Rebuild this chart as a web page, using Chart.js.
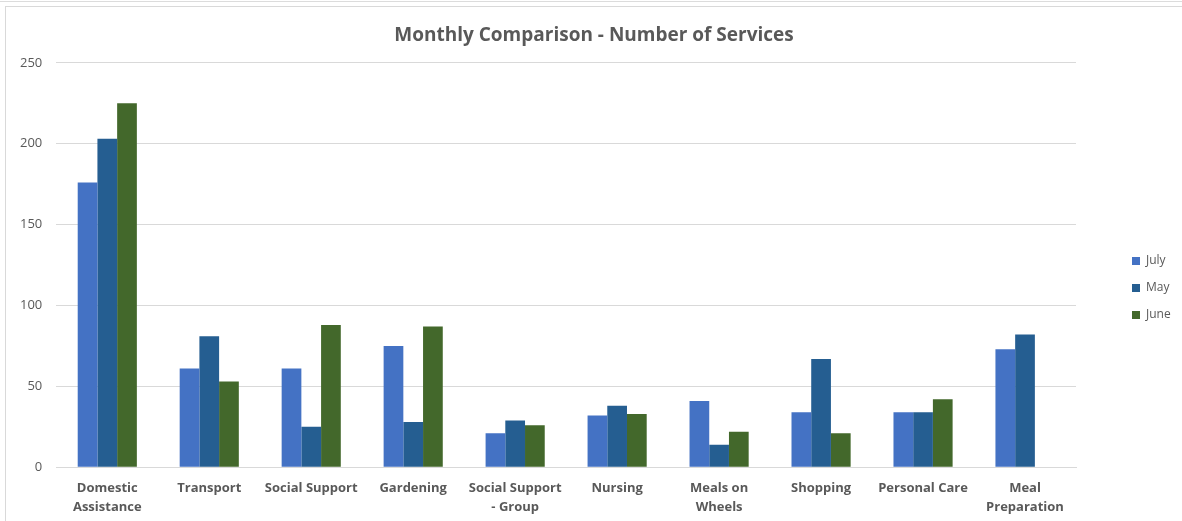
<!DOCTYPE html>
<html>
<head>
<meta charset="utf-8">
<script src="https://cdn.jsdelivr.net/npm/chart.js@4.4.1/dist/chart.umd.min.js"></script>
<style>
  html, body { margin: 0; padding: 0; background: #fff; }
  body { width: 1182px; height: 521px; overflow: hidden; position: relative; }
  .topline { position: absolute; left: 0; top: 1px; width: 1182px; height: 0; border-top: 1px solid #dcdcdc; }
  .frame { position: absolute; left: 5px; top: 6px; width: 1177px; height: 515px;
           box-sizing: border-box; border-left: 1px solid #d9d9d9; border-top: 1px solid #d9d9d9; }
  canvas { display: block; }
</style>
</head>
<body>
<div class="topline"></div>
<div class="frame">
  <canvas id="chart" width="1176" height="514"></canvas>
</div>
<script>
const categories = [
  ['Domestic', 'Assistance'], 'Transport', 'Social Support', 'Gardening',
  ['Social Support', '- Group'], 'Nursing', ['Meals on', 'Wheels'],
  'Shopping', 'Personal Care', ['Meal', 'Preparation']
];
const julyValues = [176, 61, 61, 75, 21, 32, 41, 34, 34, 73];
const mayValues  = [203, 81, 25, 28, 29, 38, 14, 67, 34, 82];
const juneValues = [225, 53, 88, 87, 26, 33, 22, 21, 42, null];
const yTicks = [0, 50, 100, 150, 200, 250];

const grey = '#595959';

// legend sits far right, apart from the plot like in Excel
const legendSpot = {
  id: 'legendSpot',
  beforeLayout(chart) {
    const lg = chart.legend;
    if (!lg || lg._patched) return;
    const fit = lg.fit;
    lg.fit = function () { fit.call(this); this.width = 106; };
    lg._patched = true;
  },
  afterLayout(chart) {
    const lg = chart.legend;
    const dx = 1111 - lg.left;
    lg.left += dx;
    lg.right += dx;
    lg.top += 20;
    lg.bottom += 20;
  }
};

new Chart(document.getElementById('chart'), {
  type: 'bar',
  data: {
    labels: categories,
    datasets: [
      { label: 'July', data: julyValues, backgroundColor: '#4472C4' },
      { label: 'May', data: mayValues, backgroundColor: '#255E91' },
      { label: 'June', data: juneValues, backgroundColor: '#43682B' }
    ]
  },
  options: {
    responsive: false,
    animation: false,
    datasets: { bar: { categoryPercentage: 0.58, barPercentage: 1.0 } },
    layout: { padding: { left: 0, right: 0, top: 0, bottom: -8 } },
    plugins: {
      title: {
        display: true,
        text: 'Monthly Comparison - Number of Services',
        color: grey,
        font: { family: 'Open Sans', size: 19, weight: 'bold' },
        padding: { top: 17, bottom: 16 }
      },
      legend: {
        position: 'right',
        labels: {
          color: grey,
          font: { family: 'Open Sans', size: 12 },
          boxWidth: 8,
          boxHeight: 8,
          padding: 15
        }
      },
      tooltip: { enabled: false }
    },
    scales: {
      x: {
        grid: { display: false, drawTicks: false },
        border: { display: true, color: '#d9d9d9' },
        ticks: {
          color: grey,
          autoSkip: false,
          maxRotation: 0,
          padding: 12,
          font: { family: 'Open Sans', size: 13, weight: 'bold', lineHeight: 1.45 }
        }
      },
      y: {
        min: 0,
        max: 250,
        afterBuildTicks(scale) { scale.ticks = yTicks.map(v => ({ value: v })); },
        grid: { color: '#d9d9d9', drawTicks: false },
        border: { display: false },
        ticks: {
          color: grey,
          padding: 14,
          font: { family: 'Open Sans', size: 13 }
        }
      }
    }
  },
  plugins: [legendSpot]
});
</script>
</body>
</html>
